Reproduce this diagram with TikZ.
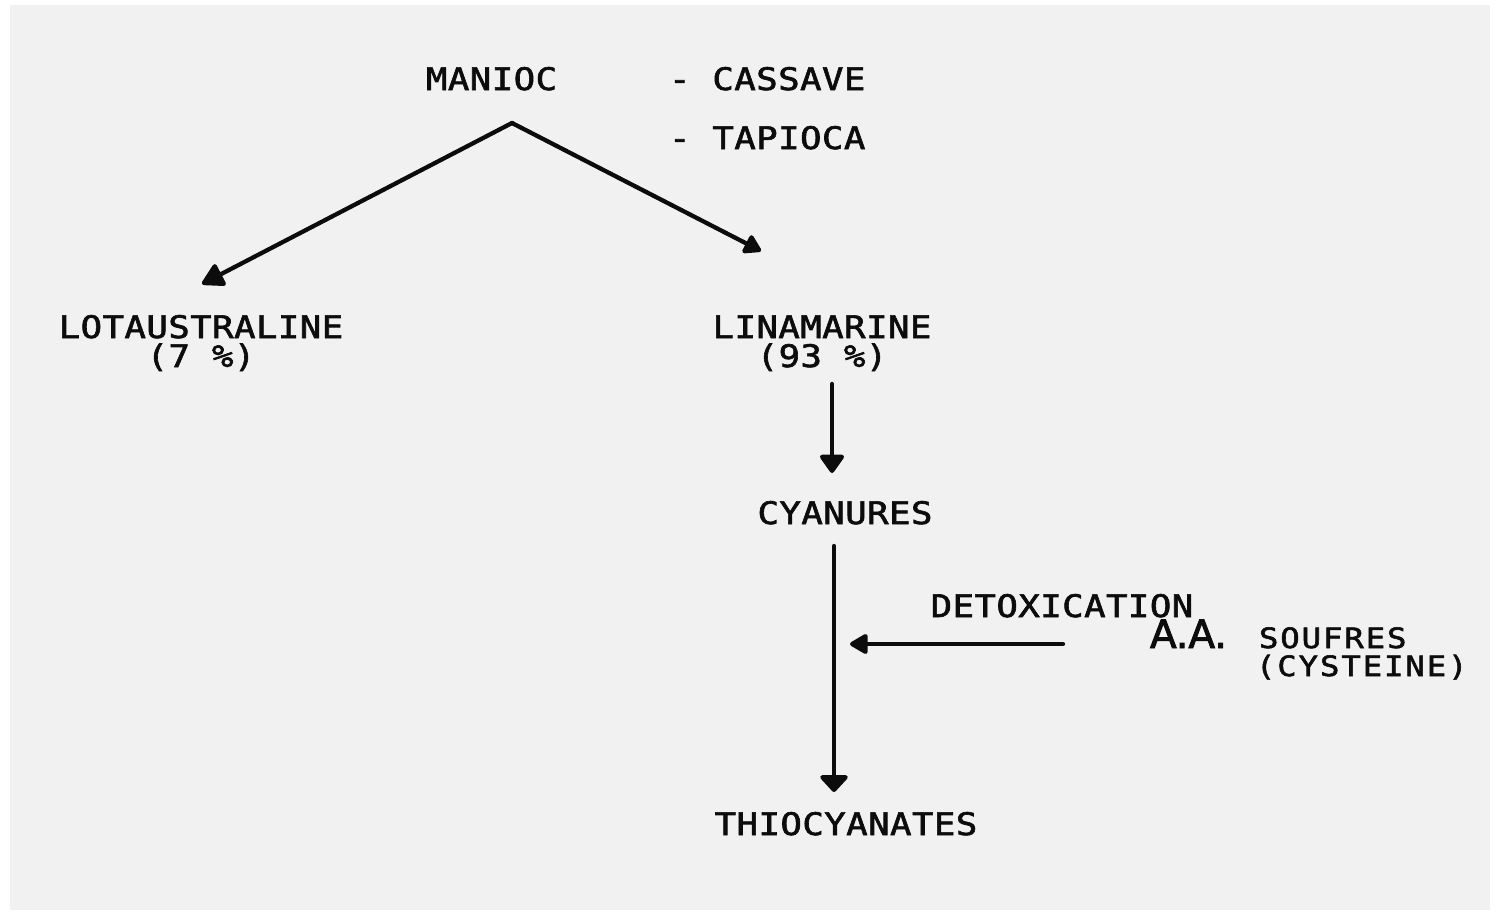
\documentclass[tikz,border=0pt]{standalone}
\usepackage{fontspec}
\usetikzlibrary{arrows.meta}
\newfontfamily\twfont[FakeStretch=1.15, FakeBold=2, LetterSpace=1.5]{DejaVu Sans Mono}
\newfontfamily\twsmall[FakeStretch=1.15, FakeBold=2, LetterSpace=7]{DejaVu Sans Mono}
\newfontfamily\aafont[FakeBold=2.4]{DejaVu Sans}
\definecolor{paper}{RGB}{241,241,241}
\definecolor{ink}{RGB}{12,12,12}
\tikzset{
  lbl/.style={inner sep=0pt, outer sep=0pt, text=ink, font=\twfont\fontsize{31}{32}\selectfont},
  lblsmall/.style={inner sep=0pt, outer sep=0pt, text=ink, font=\twsmall\fontsize{28}{29}\selectfont},
  lblbig/.style={inner sep=0pt, outer sep=0pt, text=ink, font=\aafont\fontsize{39}{40}\selectfont},
  conn/.style={draw=ink, line width=4.3pt, line cap=round},
}
\begin{document}
\begin{tikzpicture}[x=1pt,y=-1pt]
\path[use as bounding box, fill=white] (0,0) rectangle (1497,914);
\fill[paper] (10,5) rectangle (1490,910);

% texts
\node[lbl, anchor=base west] (manioc) at (426,90) {MANIOC};
\node[lbl, anchor=base west] (cassave) at (669,90) {- CASSAVE};
\node[lbl, anchor=base west] (tapioca) at (669,149) {- TAPIOCA};
\node[lbl, anchor=base] (lot) at (201,338) {LOTAUSTRALINE};
\node[lbl, anchor=base] (lotp) at (201,367) {(7 \%)};
\node[lbl, anchor=base] (lin) at (822,338) {LINAMARINE};
\node[lbl, anchor=base] (linp) at (822,367) {(93 \%)};
\node[lbl, anchor=base] (cya) at (845,524) {CYANURES};
\node[lbl, anchor=base] (thio) at (846,835) {THIOCYANATES};
\node[lbl, anchor=base] (detox) at (1062,617) {DETOXICATION};
\node[lblbig, anchor=base west] (aa) at (1150,648) {A.A.};
\node[lblsmall, anchor=base west] (souf) at (1259,648) {SOUFRES};
\node[lblsmall, anchor=base west] (cyst) at (1256,676) {(CYSTEINE)};

% connector end points
\coordinate (apex) at (512,123);
\coordinate (lotTip) at (202,284);
\coordinate (linTip) at (761,251);
\coordinate (linOut) at (832,384);
\coordinate (cyaIn) at (832,473);
\coordinate (cyaOut) at (834,546);
\coordinate (thioIn) at (834,792);
\coordinate (aaOut) at (1063,644);
\coordinate (sideIn) at (850,644);

% connectors
\draw[conn, -{Triangle[width=26pt,length=24pt,round]}] (apex) -- (lotTip);
\draw[conn, -{Triangle[width=22pt,length=19pt,round]}] (apex) -- (linTip);
\draw[conn, -{Triangle[width=27pt,length=20pt,round]}] (linOut) -- (cyaIn);
\draw[conn, -{Triangle[width=32pt,length=18pt,round]}] (cyaOut) -- (thioIn);
\draw[conn, -{Triangle[width=22pt,length=20pt,round]}] (aaOut) -- (sideIn);
\end{tikzpicture}
\end{document}
